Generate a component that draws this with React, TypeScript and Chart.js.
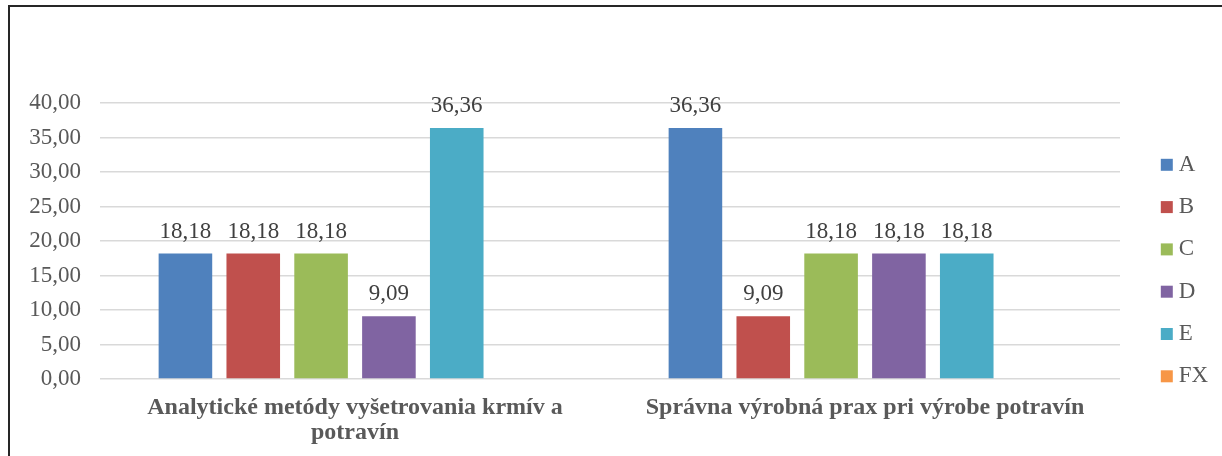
import React, { useEffect, useRef } from 'react';
import { Chart, registerables } from 'chart.js';

Chart.register(...registerables);

const categories: (string | string[])[] = [
  ['Analytické metódy vyšetrovania krmív a', 'potravín'],
  'Správna výrobná prax pri výrobe potravín',
];
const seriesNames = ['A', 'B', 'C', 'D', 'E', 'FX'];
const valuesA = [18.18, 36.36];
const valuesB = [18.18, 9.09];
const valuesC = [18.18, 18.18];
const valuesD = [9.09, 18.18];
const valuesE = [36.36, 18.18];
const valuesFX: (number | null)[] = [null, null];
const seriesColors = ['#4F81BD', '#C0504D', '#9BBB59', '#8064A2', '#4BACC6', '#F79646'];
const yMin = 0;
const yMax = 40;
const yStep = 5;

const FONT = "'Liberation Serif', 'Times New Roman', serif";
const fmt = (v: number) => v.toFixed(2).replace('.', ',');

const dataLabels = {
  id: 'dataLabels',
  afterDatasetsDraw(chart: any) {
    const ctx = chart.ctx;
    ctx.save();
    ctx.font = `23px ${FONT}`;
    ctx.fillStyle = '#404040';
    ctx.textAlign = 'center';
    ctx.textBaseline = 'alphabetic';
    chart.data.datasets.forEach((ds: any, i: number) => {
      const meta = chart.getDatasetMeta(i);
      meta.data.forEach((el: any, j: number) => {
        const v = ds.data[j];
        if (v == null) return;
        ctx.fillText(fmt(v), el.x, el.y - 16);
      });
    });
    ctx.restore();
  },
};

const legendPlace = {
  id: 'legendPlace',
  afterLayout(chart: any) {
    const lg = chart.legend;
    if (!lg) return;
    const w = lg.right - lg.left;
    const h = lg.bottom - lg.top;
    lg.left = chart.chartArea.right + 27;
    lg.right = lg.left + w;
    lg.top = chart.chartArea.top + 31;
    lg.bottom = lg.top + h;
  },
};

export default function App() {
  const ref = useRef<HTMLCanvasElement>(null);

  useEffect(() => {
    if (!ref.current) return;
    let chart: any = null;
    let cancelled = false;
    const build = () => {
      if (cancelled || !ref.current) return;
      const allValues = [valuesA, valuesB, valuesC, valuesD, valuesE, valuesFX];
      chart = new Chart(ref.current, {
        type: 'bar',
        data: {
          labels: categories,
          datasets: seriesNames.map((name, i) => ({
            label: name,
            data: allValues[i],
            backgroundColor: seriesColors[i],
            borderWidth: 0,
            categoryPercentage: 0.798,
            barPercentage: 0.79,
          })),
        },
        options: {
          responsive: false,
          animation: false,
          layout: { padding: { top: 103, left: 0, right: 102, bottom: 11 } },
          plugins: {
            tooltip: { enabled: false },
            legend: {
              position: 'chartArea',
              align: 'start',
              labels: {
                usePointStyle: true,
                pointStyle: 'rect',
                boxWidth: 1,
                boxHeight: 12,
                padding: 19.3,
                color: '#595959',
                font: { family: FONT, size: 23 },
              },
            },
          },
          scales: {
            x: {
              afterFit(scale: any) {
                scale.height = 66;
              },
              grid: { display: false, drawTicks: false },
              border: { display: false },
              ticks: {
                color: '#595959',
                padding: 16,
                maxRotation: 0,
                autoSkip: false,
                font: { family: FONT, size: 24, weight: 'bold', lineHeight: '25px' },
              },
            },
            y: {
              min: yMin,
              max: yMax,
              afterFit(scale: any) {
                scale.width = 100;
              },
              grid: { color: '#D9D9D9', lineWidth: 1.5, drawTicks: false },
              border: { display: false },
              ticks: {
                stepSize: yStep,
                padding: 19,
                color: '#595959',
                font: { family: FONT, size: 23 },
                callback: (v: any) => fmt(Number(v)),
              },
            },
          },
        },
        plugins: [dataLabels, legendPlace],
      });
    };
    const fonts: any = (document as any).fonts;
    if (fonts && fonts.load) {
      Promise.all([
        fonts.load(`23px 'Liberation Serif'`),
        fonts.load(`bold 24px 'Liberation Serif'`),
      ])
        .catch(() => null)
        .then(build);
    } else {
      build();
    }
    return () => {
      cancelled = true;
      if (chart) chart.destroy();
    };
  }, []);

  return (
    <div
      style={{
        position: 'absolute',
        left: 0,
        top: 0,
        width: 1222,
        height: 456,
        overflow: 'hidden',
        background: '#fff',
      }}
    >
      <div
        style={{
          position: 'absolute',
          left: 8,
          top: 5,
          width: 1300,
          height: 500,
          borderTop: '2px solid #262626',
          borderLeft: '2px solid #262626',
        }}
      />
      <canvas
        ref={ref}
        width={1222}
        height={456}
        style={{ position: 'absolute', left: 0, top: 0 }}
      />
    </div>
  );
}
